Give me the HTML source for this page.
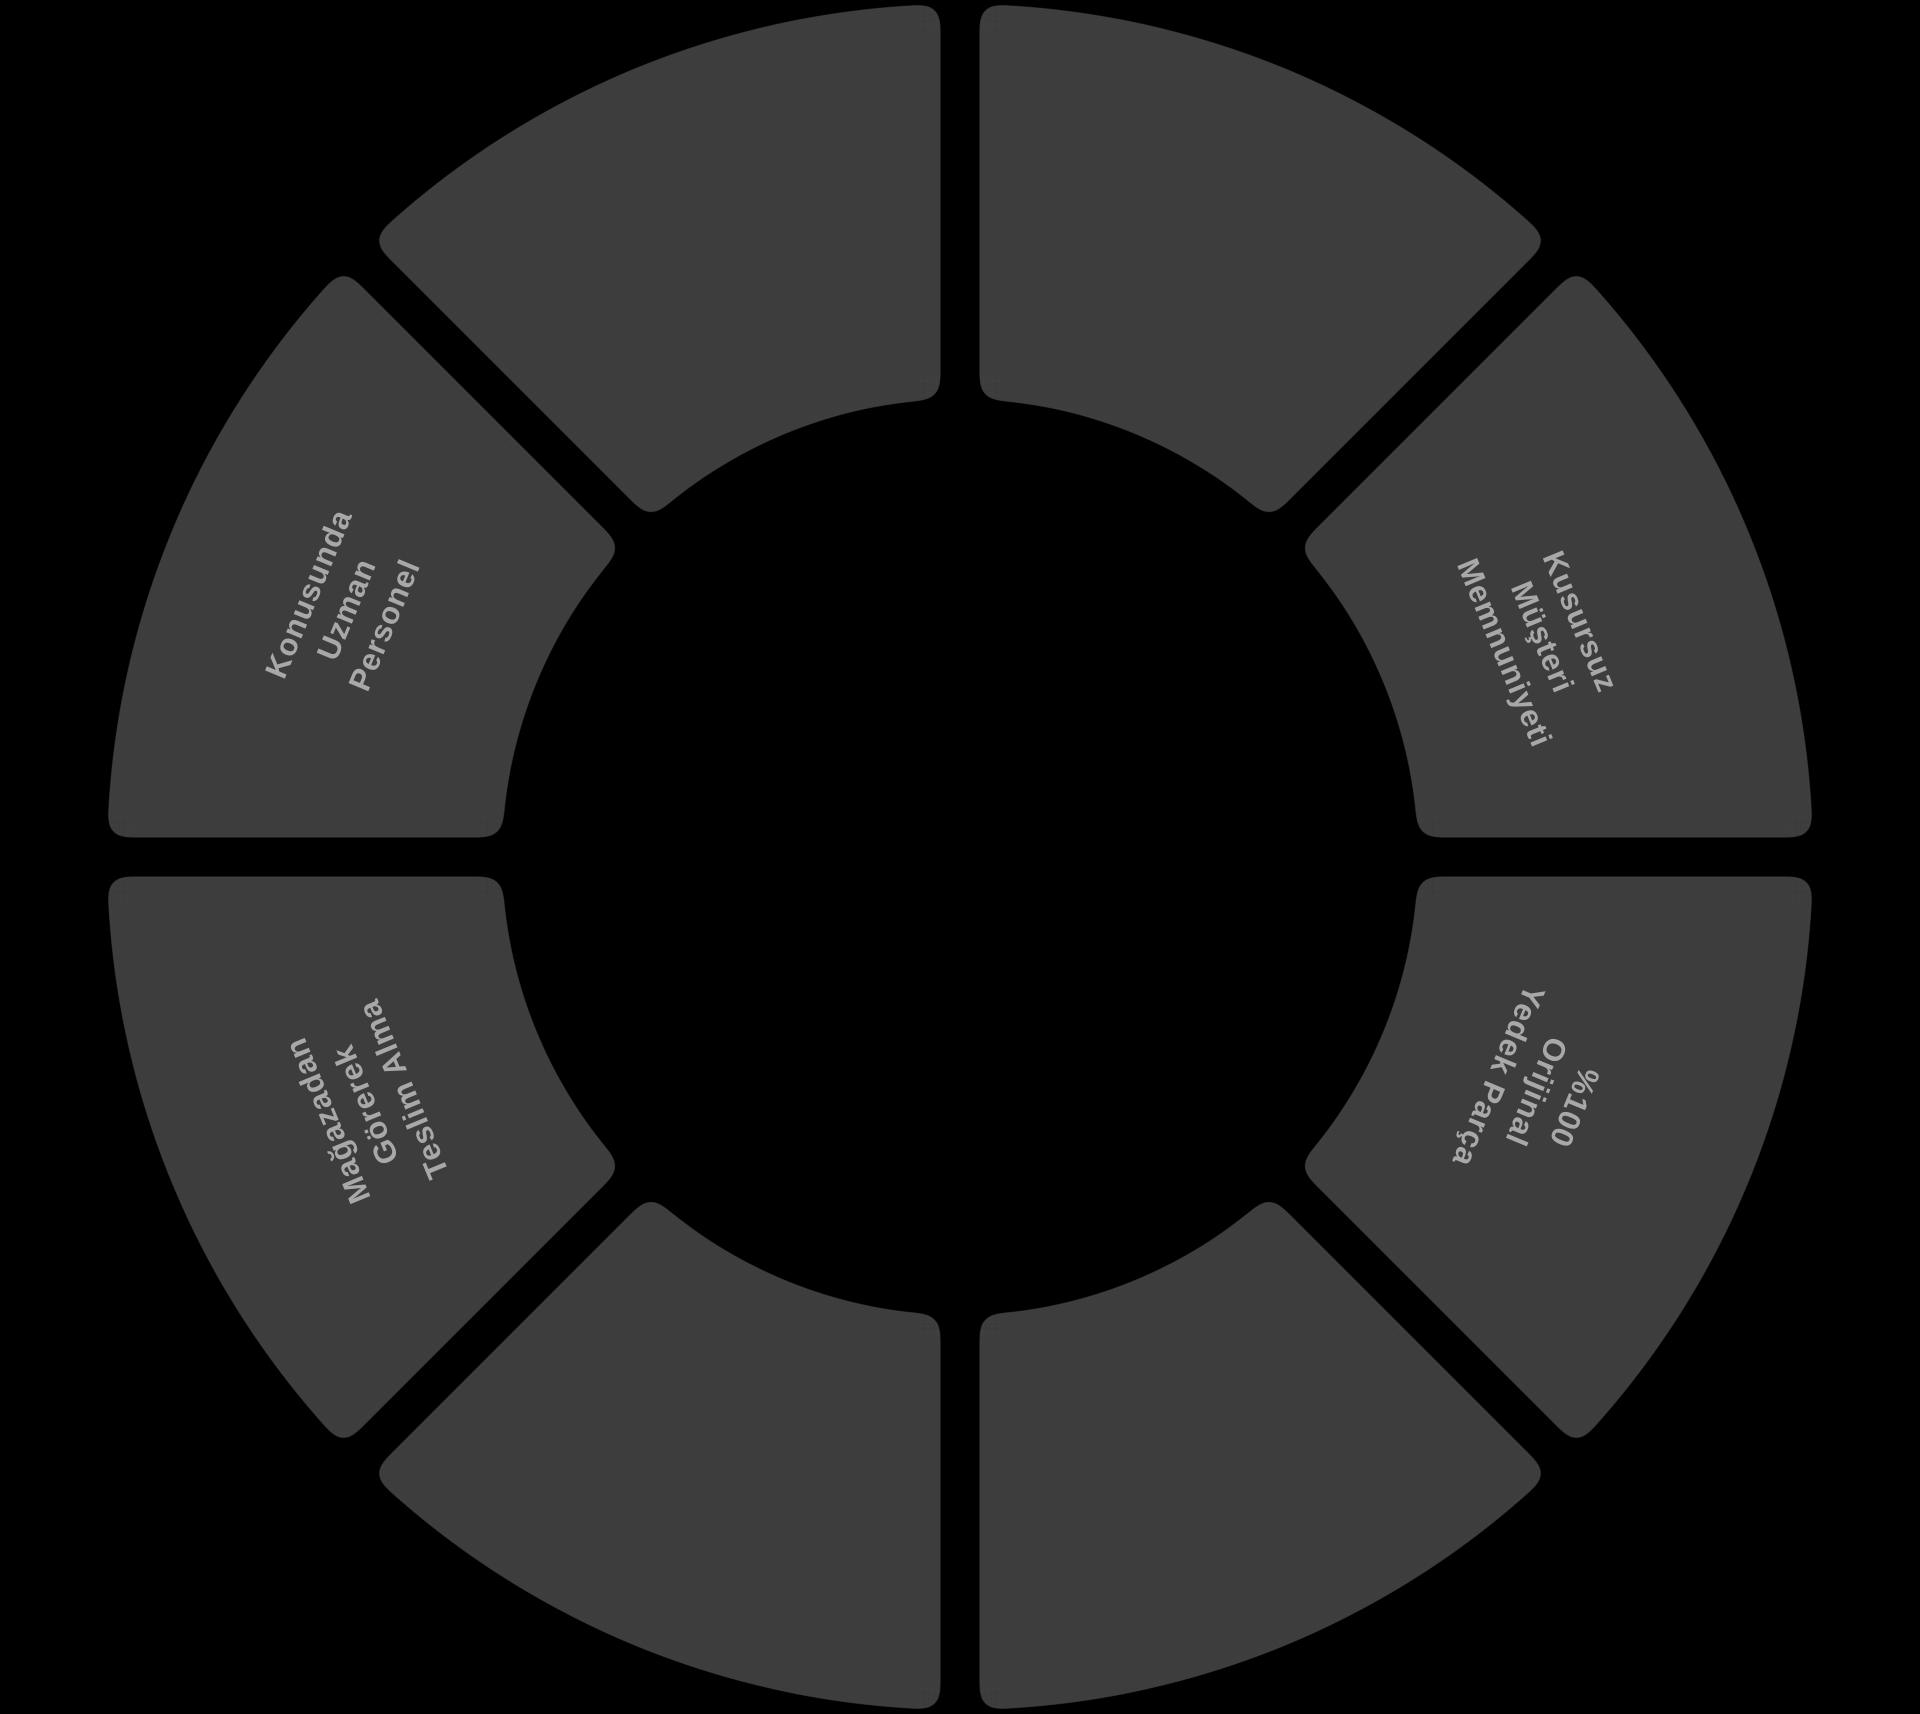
<!DOCTYPE html>
<html><head><meta charset="utf-8">
<style>
html,body{margin:0;padding:0;background:#000;}
body{width:1920px;height:1714px;overflow:hidden;position:relative;}
svg{position:absolute;left:0;top:0;}
.lbl{position:absolute;width:0;height:0;}
.lbl div{position:absolute;left:-250px;top:-80px;width:500px;height:160px;display:flex;flex-direction:column;justify-content:center;align-items:center;
font-family:"Liberation Sans",sans-serif;font-weight:bold;font-size:31px;line-height:41px;letter-spacing:1px;color:#a8a8a8;text-align:center;white-space:nowrap;}
</style></head><body>
<svg width="1920" height="1714" viewBox="0 0 1920 1714">
  <defs>
    <mask id="m">
      <rect width="1920" height="1714" fill="#fff"/>
      <circle cx="960" cy="857" r="458" fill="#000"/>
      <g stroke="#000" stroke-width="39">
        <line x1="960" y1="-100" x2="960" y2="1814"/>
        <line x1="-100" y1="857" x2="2020" y2="857"/>
        <line x1="60" y1="-43" x2="1860" y2="1757"/>
        <line x1="1860" y1="-43" x2="60" y2="1757"/>
      </g>
    </mask>
    <filter id="r" x="0" y="0" width="1920" height="1714" filterUnits="userSpaceOnUse">
      <feGaussianBlur stdDeviation="11"/>
      <feComponentTransfer>
        <feFuncA type="linear" slope="30" intercept="-14.5"/>
      </feComponentTransfer>
    </filter>
  </defs>
  <g filter="url(#r)">
    <circle cx="960" cy="857" r="853" fill="#3d3d3d" mask="url(#m)"/>
  </g>
</svg>
<div class="lbl" style="left:346px;top:609px;"><div style="transform:rotate(-67.5deg)">Konusunda<br>Uzman<br>Personel</div></div>
<div class="lbl" style="left:365px;top:1105px;"><div style="transform:rotate(-112.5deg)">Mağazadan<br>Görerek<br>Teslim Alma</div></div>
<div class="lbl" style="left:1543px;top:637px;"><div style="transform:rotate(67.5deg)">Kusursuz<br>Müşteri<br>Memnuniyeti</div></div>
<div class="lbl" style="left:1537px;top:1092px;"><div style="transform:rotate(112.5deg)">%100<br>Orijinal<br>Yedek Parça</div></div>
</body></html>
